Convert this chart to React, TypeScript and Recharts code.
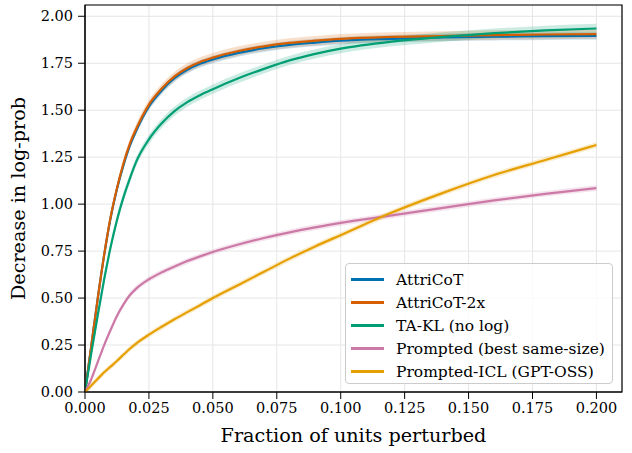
import { Area, CartesianGrid, ComposedChart, Legend, Line, ReferenceArea, XAxis, YAxis } from 'recharts';

const FONT = '"DejaVu Serif", serif';

// fraction of units perturbed (x positions of the sampled curve points)
const FRACTION = [
  0, 0.0025, 0.005, 0.0075, 0.01, 0.0125, 0.015, 0.0175, 0.02, 0.025, 0.03, 0.035, 0.04, 0.045, 0.05, 0.06, 0.07,
  0.08, 0.09, 0.1, 0.12, 0.14, 0.16, 0.18, 0.2,
];

const ATTRICOT = [
  0, 0.25, 0.5, 0.73, 0.925, 1.08, 1.205, 1.31, 1.39, 1.52, 1.605, 1.67, 1.715, 1.747, 1.77, 1.805, 1.83, 1.848, 1.86,
  1.87, 1.88, 1.887, 1.891, 1.894, 1.895,
];
const ATTRICOT_2X = [
  0, 0.25, 0.5, 0.73, 0.93, 1.085, 1.215, 1.32, 1.4, 1.53, 1.615, 1.68, 1.725, 1.757, 1.78, 1.815, 1.84, 1.858, 1.87,
  1.88, 1.89, 1.895, 1.9, 1.903, 1.905,
];
const TA_KL = [
  0, 0.21, 0.41, 0.6, 0.77, 0.915, 1.035, 1.135, 1.225, 1.345, 1.43, 1.495, 1.543, 1.58, 1.612, 1.67, 1.72, 1.765,
  1.8, 1.828, 1.865, 1.89, 1.91, 1.925, 1.935,
];
const PROMPTED = [
  0, 0.07, 0.16, 0.25, 0.33, 0.405, 0.465, 0.515, 0.55, 0.6, 0.637, 0.668, 0.697, 0.722, 0.745, 0.785, 0.82, 0.85,
  0.876, 0.9, 0.94, 0.98, 1.02, 1.055, 1.085,
];
const PROMPTED_ICL = [
  0, 0.035, 0.07, 0.105, 0.135, 0.165, 0.198, 0.23, 0.258, 0.305, 0.347, 0.387, 0.425, 0.462, 0.5, 0.57, 0.64, 0.71,
  0.775, 0.835, 0.955, 1.06, 1.155, 1.235, 1.315,
];

const NAMES = ['AttriCoT', 'AttriCoT-2x', 'TA-KL (no log)', 'Prompted (best same-size)', 'Prompted-ICL (GPT-OSS)'];
const COLORS = ['#0072B2', '#D55E00', '#009E73', '#CC79A7', '#E69F00'];
// half width of the shaded confidence band around each curve
const BAND = [0.02, 0.025, 0.025, 0.015, 0.015];

const X_TICKS = [0, 0.025, 0.05, 0.075, 0.1, 0.125, 0.15, 0.175, 0.2];
const Y_TICKS = [0, 0.25, 0.5, 0.75, 1, 1.25, 1.5, 1.75, 2];

const series = [ATTRICOT, ATTRICOT_2X, TA_KL, PROMPTED, PROMPTED_ICL].map((values, i) => ({
  key: `s${i}`,
  name: NAMES[i],
  color: COLORS[i],
  values,
  band: BAND[i],
}));

const data = FRACTION.map((x, i) => {
  const row: Record<string, number | number[]> = { x };
  series.forEach((s) => {
    row[s.key] = s.values[i];
    row[`${s.key}Band`] = [s.values[i] - s.band, s.values[i] + s.band];
  });
  return row;
});

const tickStyle = { fill: '#000', fontSize: 14.5, fontFamily: FONT };

function LegendBox() {
  return (
    <div
      style={{
        boxSizing: 'border-box',
        width: 268,
        height: 121,
        border: '1px solid #cccccc',
        borderRadius: 4,
        background: 'rgba(255,255,255,0.8)',
        padding: '4px 0 0 5px',
        fontFamily: FONT,
        fontSize: 15.5,
        color: '#000',
      }}
    >
      {series.map((s) => (
        <div key={s.key} style={{ display: 'flex', alignItems: 'center', height: 23 }}>
          <span style={{ width: 33, height: 2.2, background: s.color, marginRight: 12 }} />
          <span>{s.name}</span>
        </div>
      ))}
    </div>
  );
}

export default function App() {
  return (
    <div style={{ position: 'absolute', left: 0, top: 0, background: '#fff' }}>
      <ComposedChart width={632} height={453} data={data} margin={{ top: 5, right: 10, bottom: 0, left: 0 }}>
        <CartesianGrid stroke="#e6e6e6" strokeWidth={1} />
        <XAxis
          dataKey="x"
          type="number"
          domain={[0, 0.21]}
          ticks={X_TICKS}
          tickFormatter={(v: number) => v.toFixed(3)}
          height={61}
          tickSize={7}
          tickMargin={4}
          stroke="#000"
          tick={tickStyle}
          allowDataOverflow
          label={({ viewBox }: any) => (
            <text
              x={viewBox.x + viewBox.width / 2}
              y={441.5}
              textAnchor="middle"
              fontFamily={FONT}
              fontSize={19.2}
              fill="#000"
            >
              Fraction of units perturbed
            </text>
          )}
        />
        <YAxis
          type="number"
          domain={[0, 2.06]}
          ticks={Y_TICKS}
          tickFormatter={(v: number) => v.toFixed(2)}
          width={85}
          tickSize={7}
          tickMargin={5}
          stroke="#000"
          tick={tickStyle}
          allowDataOverflow
          label={({ viewBox }: any) => {
            const cy = viewBox.y + viewBox.height / 2;
            return (
              <text
                x={24.5}
                y={cy}
                transform={`rotate(-90, 24.5, ${cy})`}
                textAnchor="middle"
                fontFamily={FONT}
                fontSize={19.2}
                fill="#000"
              >
                Decrease in log-prob
              </text>
            );
          }}
        />
        {series.map((s) => [
          <Area
            key={`${s.key}-band`}
            dataKey={`${s.key}Band`}
            type="monotone"
            stroke="none"
            fill={s.color}
            fillOpacity={0.2}
            isAnimationActive={false}
            legendType="none"
            activeDot={false}
          />,
          <Line
            key={s.key}
            dataKey={s.key}
            name={s.name}
            type="monotone"
            stroke={s.color}
            strokeWidth={2.2}
            dot={false}
            activeDot={false}
            isAnimationActive={false}
          />,
        ])}
        <ReferenceArea
          x1={0}
          x2={0.21}
          y1={0}
          y2={2.06}
          fill="none"
          stroke="#000"
          strokeWidth={1.2}
          ifOverflow="visible"
        />
        <Legend
          layout="vertical"
          align="center"
          verticalAlign="middle"
          wrapperStyle={{ left: 345, top: 263, width: 268, height: 121 }}
          content={() => <LegendBox />}
        />
      </ComposedChart>
    </div>
  );
}
